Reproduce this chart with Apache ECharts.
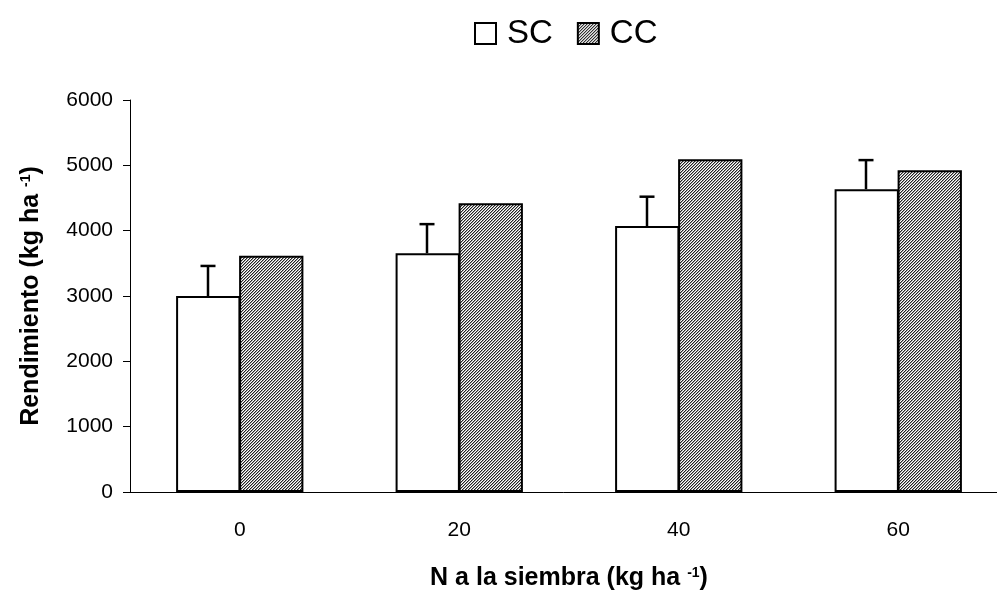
<!DOCTYPE html>
<html>
<head>
<meta charset="utf-8">
<script src="https://cdn.jsdelivr.net/npm/echarts@6/dist/echarts.min.js"></script>
<style>
html,body{margin:0;padding:0;background:#fff;}
#c{width:997px;height:590px;}
</style>
</head>
<body>
<div id="c"></div>
<script>
var categories = ['0', '20', '40', '60'];
var scValues = [3000, 3655, 4070, 4635];
var ccValues = [3615, 4420, 5095, 4925];
var scErrorTop = [3460, 4100, 4520, 5080];
var yTicks = [0, 1000, 2000, 3000, 4000, 5000, 6000];

var FONT = '"Liberation Sans", Arial, sans-serif';

// fine hatch pattern for CC
var pc = document.createElement('canvas');
pc.width = 3; pc.height = 3;
var pctx = pc.getContext('2d');
var shades = ['#222222', '#a0a0a0', '#ffffff'];
for (var px = 0; px < 3; px++) {
  for (var py = 0; py < 3; py++) {
    pctx.fillStyle = shades[(px + py) % 3];
    pctx.fillRect(px, py, 1, 1);
  }
}
var hatch = {image: pc, repeat: 'repeat'};

var errData = categories.map(function (c, i) { return [i, scValues[i], scErrorTop[i]]; });

var chart = echarts.init(document.getElementById('c'));
var gapPct = 42;
var titleRich = {
  t: {fontSize: 25, fontWeight: 'bold', color: '#000', fontFamily: FONT},
  s: {fontSize: 14, fontWeight: 'bold', color: '#000', fontFamily: FONT, verticalAlign: 'top', padding: [0, 0, 11, 0]}
};
chart.setOption({
  animation: false,
  textStyle: {fontFamily: FONT},
  grid: {left: 130, right: -11, top: 100, bottom: 98, containLabel: false, outerBoundsMode: 'none'},
  legend: {
    left: 469, top: 12,
    itemWidth: 21, itemHeight: 21, itemGap: 24,
    icon: 'rect',
    textStyle: {fontSize: 33, color: '#000', fontFamily: FONT, padding: [9, 0, 0, 6]},
    data: [
      {name: 'SC', itemStyle: {color: '#fff', borderColor: '#000', borderWidth: 2}},
      {name: 'CC', itemStyle: {color: hatch, borderColor: '#000', borderWidth: 2}}
    ]
  },
  xAxis: {
    type: 'category',
    data: categories,
    axisLine: {lineStyle: {color: '#000', width: 1}},
    axisTick: {length: 7, lineStyle: {color: '#000'}},
    axisLabel: {fontSize: 21, color: '#000', margin: 28, fontFamily: FONT},
    name: '{t|N a la siembra (kg ha }{s|-1}{t|)}',
    nameLocation: 'middle',
    nameGap: 74,
    nameTextStyle: {rich: titleRich}
  },
  yAxis: {
    type: 'value',
    min: 0, max: 6000, interval: 1000,
    axisLine: {show: true, lineStyle: {color: '#000', width: 1}},
    axisTick: {show: true, length: 7, lineStyle: {color: '#000'}},
    splitLine: {show: false},
    axisLabel: {fontSize: 21, color: '#000', margin: 17, fontFamily: FONT,
      formatter: function (v) { return yTicks.indexOf(v) >= 0 ? String(v) : ''; }},
    name: '{t|Rendimiento (kg ha }{s|-1}{t|)}',
    nameLocation: 'middle',
    nameGap: 86,
    nameRotate: 90,
    nameTextStyle: {rich: titleRich}
  },
  series: [
    {
      name: 'SC', type: 'bar', data: scValues,
      barGap: '-2%', barCategoryGap: gapPct + '%',
      itemStyle: {color: '#fff', borderColor: '#000', borderWidth: 2}
    },
    {
      name: 'CC', type: 'bar', data: ccValues,
      barGap: '-2%', barCategoryGap: gapPct + '%',
      itemStyle: {color: hatch, borderColor: '#000', borderWidth: 2}
    },
    {
      name: 'err', type: 'custom', data: errData, z: 1,
      renderItem: function (params, api) {
        var i = api.value(0);
        var lo = api.coord([i, api.value(1)]);
        var hi = api.coord([i, api.value(2)]);
        var catW = api.size([1, 0])[0];
        var barW = catW * (1 - gapPct / 100) / 2;
        var x = Math.round(lo[0] - barW / 2);
        var half = 7.5;
        return {
          type: 'group',
          children: [
            {type: 'line', shape: {x1: x, y1: lo[1], x2: x, y2: hi[1]}, style: {stroke: '#000', lineWidth: 2.5}},
            {type: 'line', shape: {x1: x - half, y1: hi[1], x2: x + half, y2: hi[1]}, style: {stroke: '#000', lineWidth: 2.5}}
          ]
        };
      }
    }
  ]
});
</script>
</body>
</html>
